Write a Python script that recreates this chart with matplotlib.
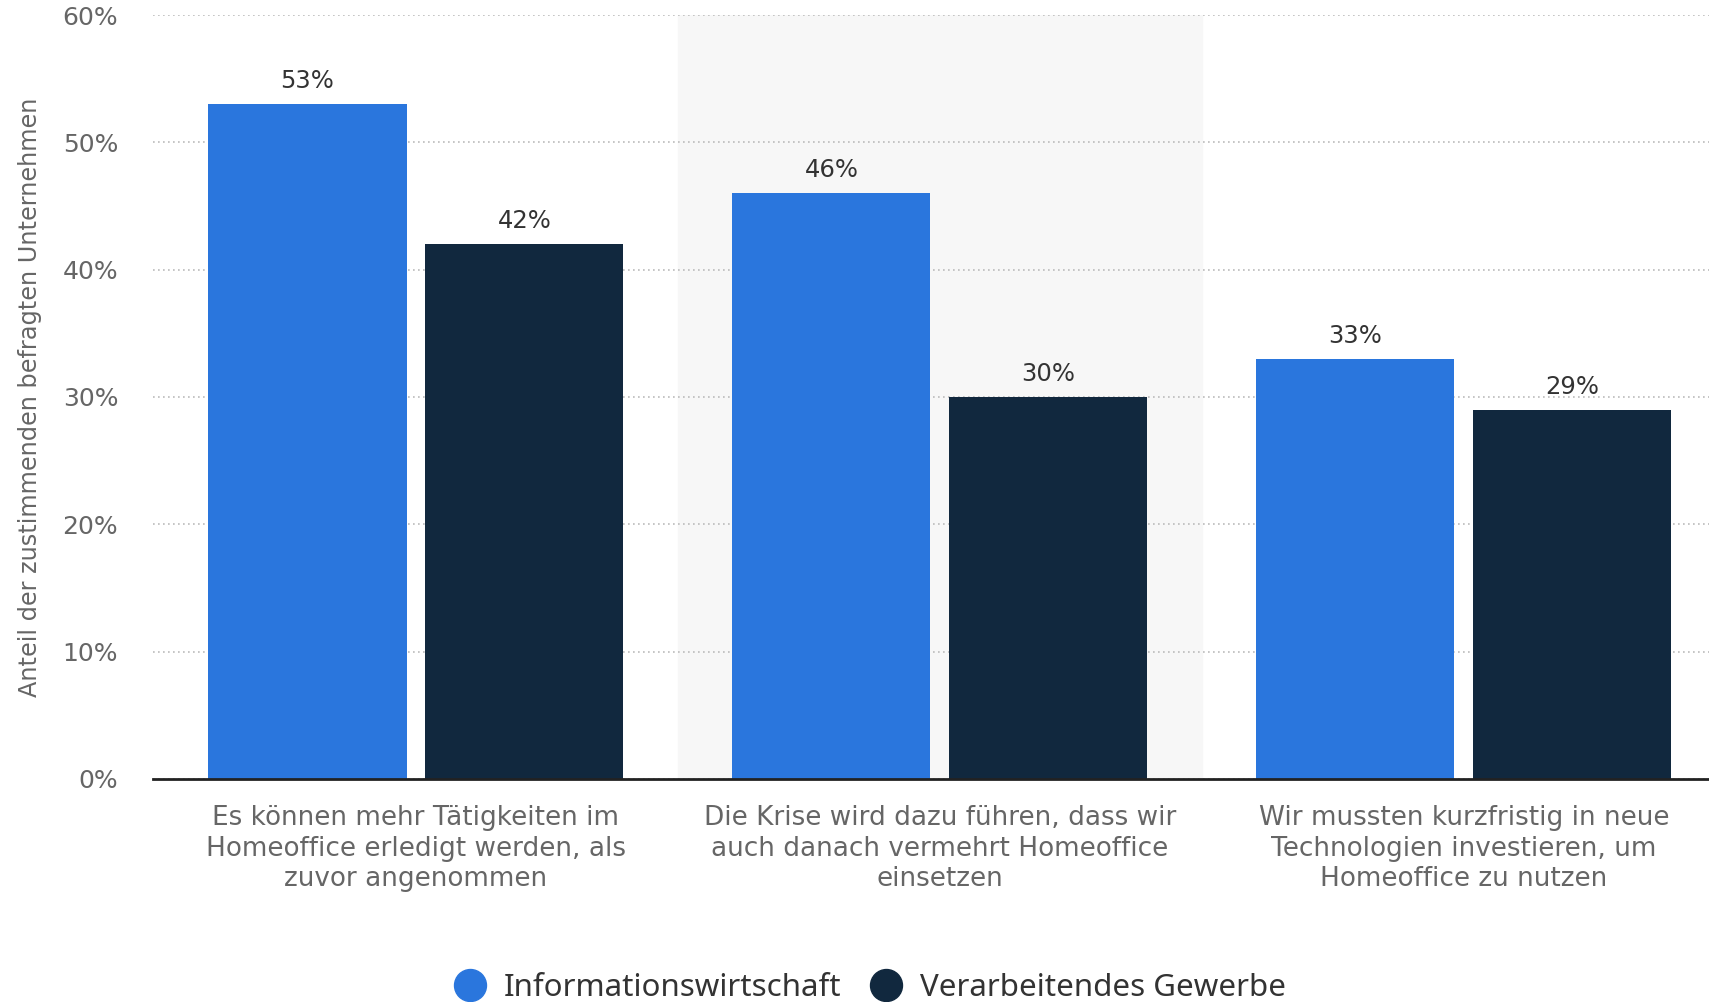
# Grouped bar chart: Homeoffice survey, Informationswirtschaft vs. Verarbeitendes Gewerbe

import numpy as np
import matplotlib.pyplot as plt
from matplotlib.lines import Line2D

plt.rcParams['font.family'] = ['DejaVu Sans']

# Data
categories = [
    'Es können mehr Tätigkeiten im\nHomeoffice erledigt werden, als\nzuvor angenommen',
    'Die Krise wird dazu führen, dass wir\nauch danach vermehrt Homeoffice\neinsetzen',
    'Wir mussten kurzfristig in neue\nTechnologien investieren, um\nHomeoffice zu nutzen',
]
series_names = ['Informationswirtschaft', 'Verarbeitendes Gewerbe']
info_values = [53, 46, 33]
gewerbe_values = [42, 30, 29]
y_ticks = [0, 10, 20, 30, 40, 50, 60]

blue = '#2a76dd'
dark = '#11283e'

fig = plt.figure(figsize=(17.09, 10.02), dpi=100)
ax = fig.add_axes([0.0895, 0.2226, 0.9105, 0.7624])

x = np.arange(len(categories))
width = 0.378
offset = 0.207

# light band behind the middle category
ax.axvspan(0.5, 1.5, color='#f7f7f7', zorder=0)

bars1 = ax.bar(x - offset, info_values, width, color=blue, zorder=3)
bars2 = ax.bar(x + offset, gewerbe_values, width, color=dark, zorder=3)

for bars in (bars1, bars2):
    for b in bars:
        ax.annotate(f'{b.get_height():.0f}%',
                    (b.get_x() + b.get_width() / 2, b.get_height()),
                    xytext=(0, 8), textcoords='offset points',
                    ha='center', va='bottom', fontsize=17.5, color='#333333',
                    zorder=4)

ax.set_xlim(-0.502, 2.468)
ax.set_ylim(0, 60)
ax.set_yticks(y_ticks)
ax.set_yticklabels([f'{t}%' for t in y_ticks])
ax.set_xticks(x)
ax.set_xticklabels(categories, fontsize=18.9, color='#666666', linespacing=1.22)

ax.tick_params(axis='x', length=0, pad=19)
ax.tick_params(axis='y', length=0, pad=25, labelsize=18, labelcolor='#666666')

ax.yaxis.grid(True, linestyle=(0, (1, 2)), color='#bbbbbb', linewidth=1.2, zorder=1)
ax.set_axisbelow(True)

for side in ('top', 'right', 'left'):
    ax.spines[side].set_visible(False)
ax.spines['bottom'].set_color('#222222')
ax.spines['bottom'].set_linewidth(2)
ax.spines['bottom'].set_zorder(5)

ax.set_ylabel('Anteil der zustimmenden befragten Unternehmen', fontsize=17.3,
              color='#666666')
ax.yaxis.set_label_coords(-0.0715, 0.5)

handles = [Line2D([], [], marker='o', linestyle='', markersize=23, color=c)
           for c in (blue, dark)]
fig.legend(handles, series_names, loc='center', bbox_to_anchor=(0.5045, 0.014),
           ncol=2, frameon=False, handletextpad=0.1,
           columnspacing=0.4, labelcolor='#333333',
           prop={'family': 'Noto Sans', 'weight': 'semibold', 'size': 22.5})

fig.savefig('out.png', dpi=100, facecolor='white')
